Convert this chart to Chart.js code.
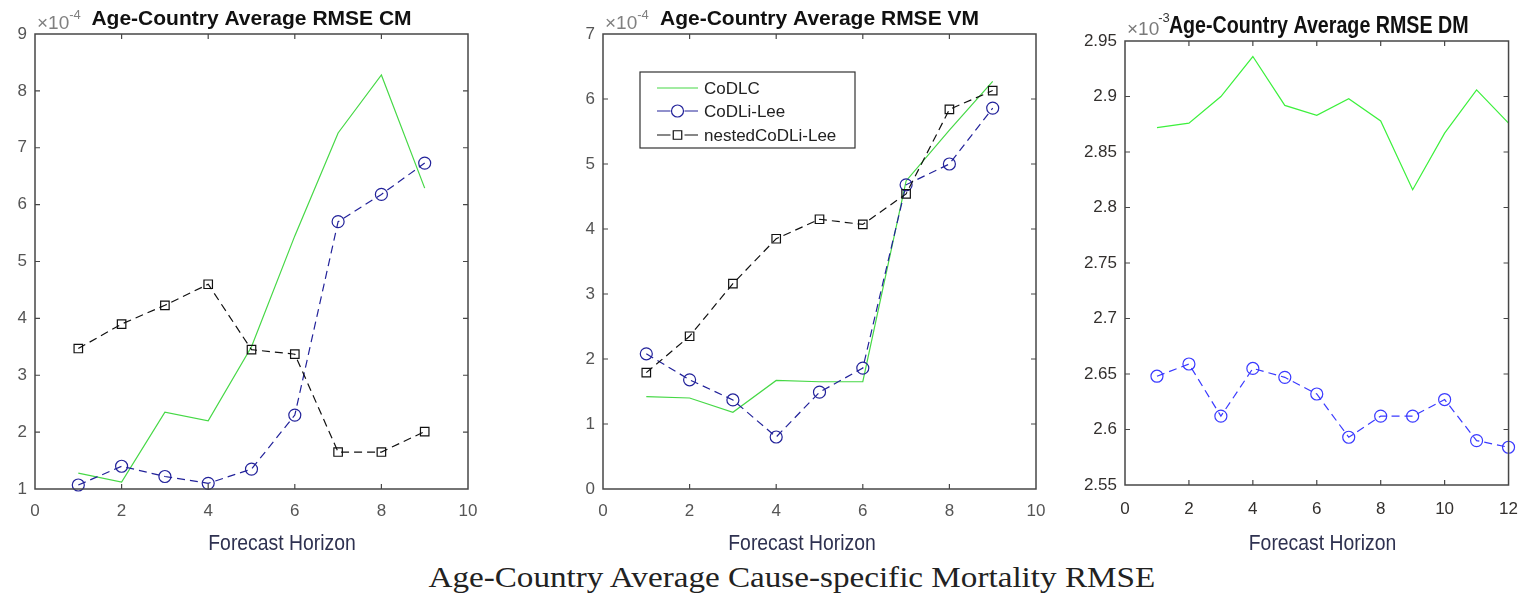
<!DOCTYPE html>
<html>
<head>
<meta charset="utf-8">
<script src="https://cdn.jsdelivr.net/npm/chart.js@4.4.1/dist/chart.umd.min.js"></script>
<style>
html,body{margin:0;padding:0;background:#fff;width:1532px;height:597px;overflow:hidden}
.box{position:absolute;top:0}
#capwrap{position:absolute;left:0;width:1584px;top:562px;text-align:center}
#caption{display:inline-block;font-family:"Liberation Serif","DejaVu Serif",serif;font-size:30px;line-height:30px;color:#222;white-space:nowrap;transform:scaleX(1.105);transform-origin:50% 50%}
</style>
</head>
<body>
<div class="box" style="left:0px"><canvas id="c1" width="520" height="560"></canvas></div>
<div class="box" style="left:540px"><canvas id="c2" width="520" height="560"></canvas></div>
<div class="box" style="left:1070px"><canvas id="c3" width="462" height="560"></canvas></div>
<div id="capwrap"><span id="caption">Age-Country Average Cause-specific Mortality RMSE</span></div>
<script>
// ---------------- data ----------------
const seriesNames = ['CoDLC', 'CoDLi-Lee', 'nestedCoDLi-Lee'];
const horizonCMVM = [1, 2, 3, 4, 5, 6, 7, 8, 9];
const horizonDM = [1, 2, 3, 4, 5, 6, 7, 8, 9, 10, 11, 12];

// CM panel, values in units of 1e-4
const cmCoDLC    = [1.28, 1.12, 2.35, 2.20, 3.50, 5.45, 7.26, 8.28, 6.29];
const cmCoDLiLee = [1.07, 1.40, 1.22, 1.10, 1.35, 2.30, 5.70, 6.18, 6.73];
const cmNested   = [3.47, 3.90, 4.23, 4.60, 3.45, 3.37, 1.65, 1.65, 2.01];

// VM panel, values in units of 1e-4
const vmCoDLC    = [1.42, 1.40, 1.18, 1.67, 1.65, 1.65, 4.74, 5.52, 6.27];
const vmCoDLiLee = [2.08, 1.68, 1.37, 0.80, 1.49, 1.86, 4.68, 5.00, 5.86];
const vmNested   = [1.79, 2.35, 3.16, 3.85, 4.15, 4.07, 4.54, 5.84, 6.13];

// DM panel, values in units of 1e-3
const dmCoDLC    = [2.872, 2.876, 2.900, 2.936, 2.892, 2.883, 2.898, 2.878, 2.816, 2.867, 2.906, 2.876];
const dmCoDLiLee = [2.648, 2.659, 2.612, 2.655, 2.647, 2.632, 2.593, 2.612, 2.612, 2.627, 2.590, 2.584];

// axis tick settings
const cmYTicks = {min: 1, max: 9, step: 1};
const vmYTicks = {min: 0, max: 7, step: 1};
const dmYTicks = {min: 2.55, max: 2.95, step: 0.05};
const cmvmXTicks = {min: 0, max: 10, step: 2};
const dmXTicks = {min: 0, max: 12, step: 2};

const panelTitles = ['Age-Country Average RMSE CM', 'Age-Country Average RMSE VM', 'Age-Country Average RMSE DM'];
const exponents = ['-4', '-4', '-3'];
const xTitle = 'Forecast Horizon';

// ---------------- styling ----------------
const SANS = '"Liberation Sans", Arial, sans-serif';
const DASH = [8, 5];

function pts(xs, ys) { return xs.map((x, i) => ({x: x, y: ys[i]})); }

function makeDatasets(xs, a, b, c, pal) {
  const ds = [
    {label: seriesNames[0], data: pts(xs, a), borderColor: pal.green, borderWidth: 1.2, pointRadius: 0, order: 3},
    {label: seriesNames[1], data: pts(xs, b), borderColor: pal.blue, borderWidth: 1.2, borderDash: DASH,
     pointStyle: 'circle', pointRadius: 6, pointBorderColor: pal.blue, pointBackgroundColor: 'rgba(0,0,0,0)', pointBorderWidth: 1.2, order: 2}
  ];
  if (c) ds.push({label: seriesNames[2], data: pts(xs, c), borderColor: '#111', borderWidth: 1.2, borderDash: DASH,
     pointStyle: 'rect', pointRadius: 6, pointBorderColor: '#111', pointBackgroundColor: 'rgba(0,0,0,0)', pointBorderWidth: 1.2, order: 1});
  ds.forEach(d => { d.fill = false; d.tension = 0; d.clip = false; d.pointHoverRadius = d.pointRadius; });
  return ds;
}

const DECOR = {
  c1: {title: panelTitles[0], exp: exponents[0], small: false, xlabelX: 282, legend: false},
  c2: {title: panelTitles[1], exp: exponents[1], small: false, xlabelX: 262, legend: true},
  c3: {title: panelTitles[2], exp: exponents[2], small: true, xlabelX: 252.5, legend: false}
};

// draw horizontally condensed text centred at (x, y)
function condensedText(ctx, text, x, y, sx) {
  ctx.save();
  ctx.translate(x, y);
  ctx.scale(sx, 1);
  ctx.textAlign = 'center';
  ctx.fillText(text, 0, 0);
  ctx.restore();
}

const decorPlugin = {
  id: 'decor',
  afterDraw(chart) {
    const cfg = DECOR[chart.canvas.id];
    const ctx = chart.ctx, a = chart.chartArea;
    const xs = chart.scales.x, ys = chart.scales.y;
    ctx.save();
    // axes box
    ctx.strokeStyle = '#474747';
    ctx.lineWidth = 1.5;
    ctx.setLineDash([]);
    ctx.strokeRect(a.left, a.top, a.right - a.left, a.bottom - a.top);
    // inward tick marks on all four sides
    const TL = 5;
    ctx.lineWidth = 1.2;
    ctx.beginPath();
    xs.ticks.forEach(t => {
      if (t.value <= xs.min + 1e-9 || t.value >= xs.max - 1e-9) return;
      const p = xs.getPixelForValue(t.value);
      ctx.moveTo(p, a.bottom); ctx.lineTo(p, a.bottom - TL);
      ctx.moveTo(p, a.top); ctx.lineTo(p, a.top + TL);
    });
    ys.ticks.forEach(t => {
      if (t.value <= ys.min + 1e-9 || t.value >= ys.max - 1e-9) return;
      const p = ys.getPixelForValue(t.value);
      ctx.moveTo(a.left, p); ctx.lineTo(a.left + TL, p);
      ctx.moveTo(a.right, p); ctx.lineTo(a.right - TL, p);
    });
    ctx.stroke();

    // exponent label and title
    ctx.textAlign = 'left';
    ctx.textBaseline = 'alphabetic';
    if (!cfg.small) {
      ctx.fillStyle = '#808080';
      ctx.font = '19px ' + SANS;
      ctx.fillText('\u00d710', a.left + 2, 29);
      const w = ctx.measureText('\u00d710').width;
      ctx.font = '13px ' + SANS;
      ctx.fillText(cfg.exp, a.left + 2 + w, 19);
      ctx.fillStyle = '#111';
      ctx.font = 'bold 21px ' + SANS;
      ctx.textAlign = 'center';
      ctx.fillText(cfg.title, (a.left + a.right) / 2, 25);
    } else {
      ctx.fillStyle = '#7a7a7a';
      ctx.font = '19px ' + SANS;
      ctx.fillText('\u00d710', a.left + 2, 35);
      const w = ctx.measureText('\u00d710').width;
      ctx.font = '13px ' + SANS;
      ctx.fillStyle = '#333';
      ctx.fillText(cfg.exp, a.left + 1 + w, 22);
      ctx.fillStyle = '#111';
      ctx.font = 'bold 23px ' + SANS;
      condensedText(ctx, cfg.title, (a.left + a.right) / 2 + 2, 33, 0.855);
    }
    // x axis title
    ctx.fillStyle = '#2e3150';
    ctx.font = '22px ' + SANS;
    condensedText(ctx, xTitle, cfg.xlabelX, 550, 0.88);

    // legend (VM panel)
    if (cfg.legend) {
      const bx = a.left + 37, by = a.top + 38, bw = 215, bh = 76;
      ctx.fillStyle = '#fff';
      ctx.fillRect(bx, by, bw, bh);
      ctx.strokeStyle = '#333';
      ctx.lineWidth = 1.2;
      ctx.strokeRect(bx, by, bw, bh);
      const rows = [by + 16, by + 39, by + 63];
      chart.data.datasets.forEach((d, i) => {
        const y = rows[i];
        const x0 = bx + 17, x1 = bx + 58, xm = (x0 + x1) / 2;
        ctx.strokeStyle = d.borderColor;
        ctx.lineWidth = 1.2;
        ctx.beginPath();
        if (d.pointRadius > 0) {
          ctx.moveTo(x0, y); ctx.lineTo(xm - 7, y);
          ctx.moveTo(xm + 7, y); ctx.lineTo(x1, y);
        } else {
          ctx.moveTo(x0, y); ctx.lineTo(x1, y);
        }
        ctx.stroke();
        if (d.pointRadius > 0) {
          ctx.fillStyle = 'rgba(0,0,0,0)';
          ctx.strokeStyle = d.pointBorderColor;
          Chart.helpers.drawPoint(ctx, {pointStyle: d.pointStyle, radius: d.pointRadius, borderWidth: 1.2, rotation: 0}, xm, y);
        }
        ctx.fillStyle = '#222';
        ctx.font = '17px ' + SANS;
        ctx.textAlign = 'left';
        ctx.textBaseline = 'middle';
        ctx.fillText(d.label, bx + 64, y + 1);
      });
    }
    ctx.restore();
  }
};

function fmt(v) { return String(Number(v.toFixed(2))); }

function makeChart(id, datasets, yT, xT, geom, small) {
  const tickFont = {family: SANS, size: 17};
  const tickColor = small ? '#33302e' : '#555';
  return new Chart(document.getElementById(id), {
    type: 'line',
    data: {datasets: datasets},
    plugins: [decorPlugin],
    options: {
      responsive: false,
      animation: false,
      events: [],
      layout: {padding: {left: 0, right: geom.right, top: geom.top, bottom: 0}},
      plugins: {legend: {display: false}, tooltip: {enabled: false}, title: {display: false}},
      scales: {
        x: {
          type: 'linear', min: xT.min, max: xT.max,
          ticks: {stepSize: xT.step, font: tickFont, color: tickColor, padding: geom.xpad, maxRotation: 0, autoSkip: false, callback: v => fmt(v)},
          grid: {display: false, drawTicks: false},
          border: {display: false},
          afterFit: s => { s.height = geom.xh; }
        },
        y: {
          type: 'linear', min: yT.min, max: yT.max,
          ticks: {stepSize: yT.step, font: tickFont, color: tickColor, padding: 8, autoSkip: false, callback: v => fmt(v)},
          grid: {display: false, drawTicks: false},
          border: {display: false},
          afterFit: s => { s.width = geom.yw; }
        }
      }
    }
  });
}

const palCV = {green: '#46d846', blue: '#22229a'};
const palD = {green: '#3cf03c', blue: '#3a3aff'};

makeChart('c1', makeDatasets(horizonCMVM, cmCoDLC, cmCoDLiLee, cmNested, palCV), cmYTicks, cmvmXTicks,
  {yw: 35, right: 52, top: 34, xh: 71, xpad: 12}, false);
makeChart('c2', makeDatasets(horizonCMVM, vmCoDLC, vmCoDLiLee, vmNested, palCV), vmYTicks, cmvmXTicks,
  {yw: 63, right: 24, top: 34, xh: 71, xpad: 12}, false);
makeChart('c3', makeDatasets(horizonDM, dmCoDLC, dmCoDLiLee, null, palD), dmYTicks, dmXTicks,
  {yw: 55, right: 12, top: 41, xh: 75, xpad: 14}, true);
</script>
</body>
</html>
